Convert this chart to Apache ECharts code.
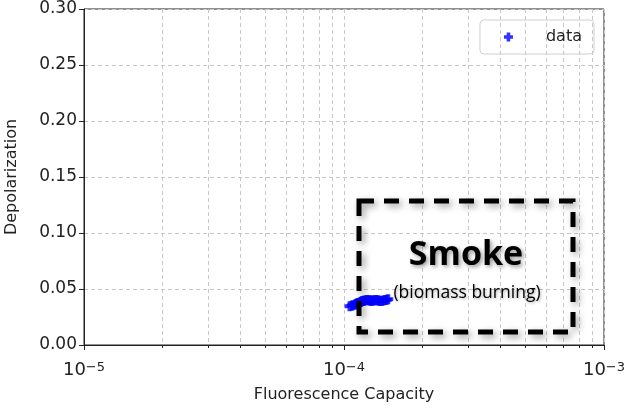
<!DOCTYPE html>
<html>
<head>
<meta charset="UTF-8">
<title>Depolarization vs Fluorescence</title>
<script src="https://cdn.jsdelivr.net/npm/echarts@6/dist/echarts.min.js"></script>
</head>
<body style="margin:0">
<div id="main" style="width:627px;height:410px;"></div>
<script type="text/javascript">
// data (x in units of 1e-4)
var fluor = [1.05, 1.07, 1.08, 1.10, 1.11, 1.12, 1.13, 1.15, 1.16, 1.17, 1.18, 1.19, 1.20, 1.22, 1.23,
	1.25, 1.26, 1.27, 1.28, 1.30, 1.31, 1.33, 1.35, 1.36, 1.38, 1.40, 1.42, 1.44, 1.46, 1.48];
var depol = [0.0345, 0.0350, 0.0355, 0.0360, 0.0365, 0.0370, 0.0375, 0.0380, 0.0385, 0.0390, 0.0392,
	0.0395, 0.0398, 0.0400, 0.0401, 0.0400, 0.0398, 0.0396, 0.0395, 0.0397, 0.0400, 0.0402, 0.0400,
	0.0396, 0.0393, 0.0395, 0.0398, 0.0402, 0.0405, 0.0408];
var majorTicks = [1e-5, 1e-4, 1e-3];
var minorTicks = [2e-5, 3e-5, 4e-5, 5e-5, 6e-5, 7e-5, 8e-5, 9e-5,
	2e-4, 3e-4, 4e-4, 5e-4, 6e-4, 7e-4, 8e-4, 9e-4];

var points = [];
for (var i = 0; i < fluor.length; i++) {
	points.push([fluor[i] * 1e-4, depol[i]]);
}

var font = 'DejaVu Sans';
var plus = 'path://M3,0h4v3h3v4h-3v3h-4v-3h-3v-4h3z';
var gridLine = { show : true, lineStyle : { color : '#c8c8c8', type : [4, 3], width : 1 } };

var chart = echarts.init(document.getElementById('main'));
chart.setOption({
	animation : false,
	grid : {
		left : 84, right : 23, top : 9, bottom : 65,
		outerBoundsMode : 'none', containLabel : false,
		show : true, borderColor : '#222', borderWidth : 1
	},
	legend : {
		right : 33, top : 20,
		data : [ 'data' ],
		borderColor : '#d0d0d0', borderWidth : 1, borderRadius : 4,
		padding : [ 9, 12, 9, 24 ],
		itemWidth : 9, itemHeight : 9, itemGap : 10,
		textStyle : { fontFamily : font, fontSize : 16, color : '#222', padding : [ 0, 0, 0, 28 ] }
	},
	xAxis : [ {
		type : 'log', logBase : 10, min : 1e-5, max : 1e-3,
		name : 'Fluorescence Capacity', nameLocation : 'middle', nameGap : 42,
		nameTextStyle : { fontFamily : font, fontSize : 16, color : '#222' },
		axisLine : { show : true, lineStyle : { color : '#222' } },
		axisTick : { show : true, inside : false, length : 5, lineStyle : { color : '#222' },
			customValues : majorTicks },
		axisLabel : {
			customValues : majorTicks,
			margin : 16,
			formatter : function(v) {
				var e = Math.round(Math.log10(v));
				return '{b|10}{s|\u2212' + Math.abs(e) + '}';
			},
			rich : {
				b : { fontFamily : font, fontSize : 18, color : '#222', lineHeight : 18, verticalAlign : 'bottom' },
				s : { fontFamily : font, fontSize : 13, color : '#222', lineHeight : 18, verticalAlign : 'top' }
			}
		},
		splitLine : gridLine
	}, {
		type : 'log', logBase : 10, min : 1e-5, max : 1e-3, position : 'bottom',
		axisLine : { show : false },
		axisTick : { show : true, length : 3, lineStyle : { color : '#222' }, customValues : minorTicks },
		axisLabel : { show : false, customValues : minorTicks },
		splitLine : gridLine
	} ],
	yAxis : {
		type : 'value', min : 0, max : 0.3, interval : 0.05,
		name : 'Depolarization', nameLocation : 'middle', nameGap : 64,
		nameTextStyle : { fontFamily : font, fontSize : 16, color : '#222' },
		axisLine : { show : true, lineStyle : { color : '#222' } },
		axisTick : { show : true, length : 5, lineStyle : { color : '#222' } },
		axisLabel : {
			fontFamily : font, fontSize : 17, color : '#222', margin : 7,
			formatter : function(v) { return v.toFixed(2); }
		},
		splitLine : gridLine
	},
	series : [ {
		name : 'data',
		type : 'scatter',
		symbol : plus,
		symbolSize : 10,
		itemStyle : { color : '#0000ff' },
		data : points,
		z : 5
	} ],
	graphic : [ {
		type : 'rect',
		shape : { x : 359, y : 201, width : 214, height : 131 },
		style : {
			fill : 'none', stroke : '#000', lineWidth : 5, lineDash : [ 15, 10 ],
			shadowBlur : 7, shadowColor : 'rgba(0,0,0,0.4)', shadowOffsetX : 3, shadowOffsetY : 3
		},
		z : 10
	}, {
		type : 'text',
		x : 466, y : 255,
		style : {
			text : 'Smoke', fontFamily : 'Open Sans', fontWeight : 'bold', fontSize : 34,
			fill : '#000', align : 'center', verticalAlign : 'middle',
			textShadowBlur : 4, textShadowColor : 'rgba(0,0,0,0.4)', textShadowOffsetX : 2, textShadowOffsetY : 2
		},
		z : 10
	}, {
		type : 'text',
		x : 467, y : 293,
		style : {
			text : '(biomass burning)', fontFamily : 'Open Sans', fontSize : 17.5,
			fill : '#000', align : 'center', verticalAlign : 'middle',
			textShadowBlur : 3, textShadowColor : 'rgba(0,0,0,0.35)', textShadowOffsetX : 1, textShadowOffsetY : 1
		},
		z : 10
	} ]
});
</script>
</body>
</html>
